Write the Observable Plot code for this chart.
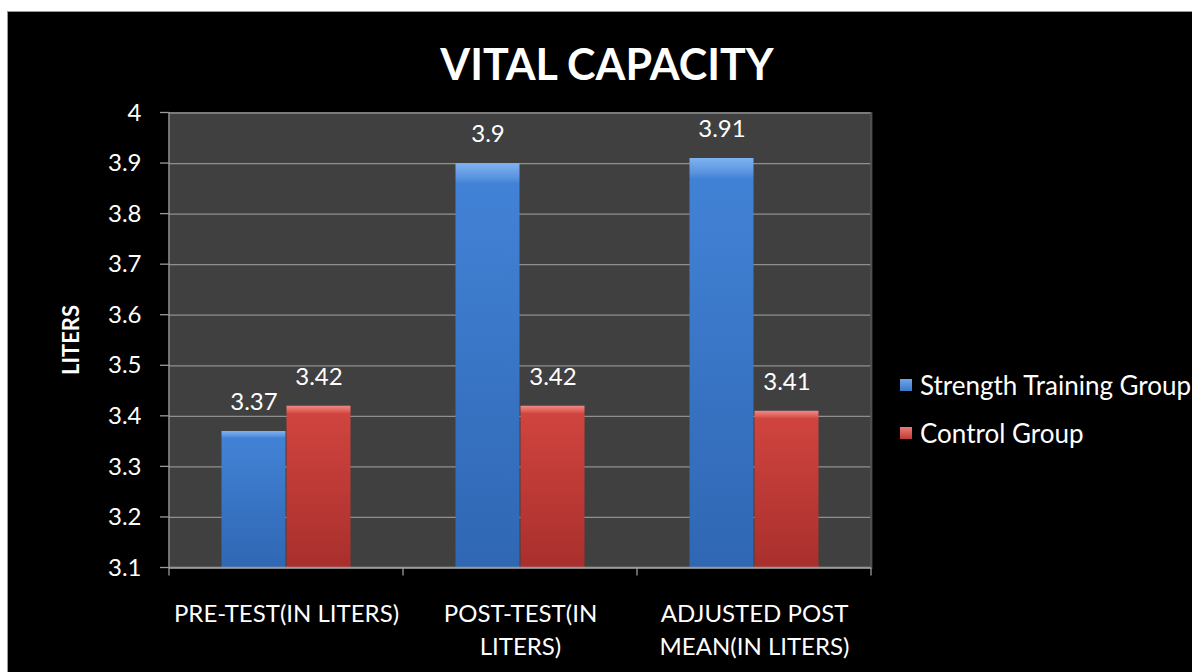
<!DOCTYPE html>
<html>
<head>
<meta charset="utf-8">
<script src="https://cdn.jsdelivr.net/npm/d3@7"></script>
<script src="https://cdn.jsdelivr.net/npm/@observablehq/plot@0.6"></script>
<style>
  html, body { margin: 0; padding: 0; background: #fff; }
  #wrap { position: relative; width: 1192px; height: 672px; overflow: hidden; background: #fff; font-family: Lato, "Open Sans", sans-serif; }
  #panel { position: absolute; left: 7px; top: 11px; width: 1185px; height: 661px; background: #000; box-shadow: inset 1px 1px 0 #9a9a9a; }
  #chart { position: absolute; left: 0; top: 0; }
  #title { position: absolute; left: 0; width: 1214px; top: 38px; text-align: center; color: #fff; font-weight: 700; font-size: 43px; line-height: 52px; }
  #ylabel { position: absolute; left: 70px; top: 340px; color: #fff; font-weight: 700; font-size: 22px; transform: translate(-50%, -50%) rotate(-90deg); white-space: nowrap; }
  #legend { position: absolute; left: 900px; top: 361px; color: #fff; font-size: 26px; }
  .item { display: flex; align-items: center; height: 48px; white-space: nowrap; }
  .sw { width: 12px; height: 12px; margin-right: 8px; }
</style>
</head>
<body>
<div id="wrap">
  <div id="panel"><div id="chart"></div></div>
  <div id="title"></div>
  <div id="ylabel"></div>
  <div id="legend"></div>
</div>
<script>
const title = "VITAL CAPACITY";
const yTitle = "LITERS";
const categories = ["PRE-TEST(IN LITERS)", "POST-TEST(IN\nLITERS)", "ADJUSTED POST\nMEAN(IN LITERS)"];
const groups = ["Strength Training Group", "Control Group"];
const strengthValues = [3.37, 3.9, 3.91];
const controlValues = [3.42, 3.42, 3.41];
const yTicks = [3.1, 3.2, 3.3, 3.4, 3.5, 3.6, 3.7, 3.8, 3.9, 4.0];
const yMin = 3.1, yMax = 4.0;
const colors = ["url(#gBlue)", "url(#gRed)"];
const swatch = ["linear-gradient(#6fa6ea,#3b78c9)", "linear-gradient(#ec7b77,#c13a37)"];

const data = [];
categories.forEach((c, i) => {
  data.push({cat: c, group: groups[0], value: strengthValues[i]});
  data.push({cat: c, group: groups[1], value: controlValues[i]});
});

document.getElementById("title").textContent = title;
document.getElementById("ylabel").textContent = yTitle;
const leg = document.getElementById("legend");
groups.forEach((g, i) => {
  const d = document.createElement("div"); d.className = "item";
  const s = document.createElement("span"); s.className = "sw"; s.style.background = swatch[i];
  const t = document.createElement("span"); t.textContent = g;
  d.append(s, t); leg.append(d);
});

const W = 1185, H = 661;
const mL = 161, mR = 321, mT = 101.5, mB = 104.5;

function defs() {
  const ns = "http://www.w3.org/2000/svg";
  const g = document.createElementNS(ns, "defs");
  g.innerHTML = `
    <linearGradient id="gBlue" x1="0" y1="0" x2="0" y2="1">
      <stop offset="0" stop-color="#7fb2f0"/>
      <stop offset="0.035" stop-color="#5b95e0"/>
      <stop offset="0.05" stop-color="#4282d6"/>
      <stop offset="1" stop-color="#2f67b3"/>
    </linearGradient>
    <linearGradient id="gRed" x1="0" y1="0" x2="0" y2="1">
      <stop offset="0" stop-color="#f08a86"/>
      <stop offset="0.035" stop-color="#dd5b56"/>
      <stop offset="0.05" stop-color="#d0443f"/>
      <stop offset="1" stop-color="#a92f2c"/>
    </linearGradient>`;
  return g;
}

const chart = Plot.plot({
  width: W, height: H,
  marginLeft: mL, marginRight: mR, marginTop: mT, marginBottom: mB,
  style: {background: "transparent", color: "#fff", fontFamily: "Lato, 'Open Sans', sans-serif", overflow: "visible"},
  fx: {domain: categories, padding: 0, label: null},
  x: {domain: groups, paddingInner: 0, paddingOuter: 0.78, axis: null},
  y: {domain: [yMin, yMax], label: null},
  color: {domain: groups, range: colors},
  marks: [
    defs,
    Plot.frame({fill: "#404040", stroke: "#404040", strokeWidth: 2}),
    Plot.gridY(yTicks, {stroke: "#8f8f8f", strokeOpacity: 1, strokeWidth: 1.3}),
    Plot.barY(data, {fx: "cat", x: "group", y1: () => yMin, y2: "value", fill: "group", insetLeft: 0.5, insetRight: 0.5}),
    Plot.text(data, {fx: "cat", x: "group", y: "value", text: d => String(d.value), dy: -29, fill: "#fff", fontSize: 24}),
    Plot.axisY(yTicks, {tickSize: 0, tickPadding: 28, fontSize: 24, fill: "#fff", tickFormat: d => String(+d.toFixed(2)), label: null}),
    Plot.axisFx({anchor: "bottom", tickSize: 0, tickPadding: 30, fontSize: 24, fill: "#fff", lineHeight: 1.38, label: null})
  ]
});
document.getElementById("chart").append(chart);

// axis lines and ticks, positioned through the plot's scales
const fx = chart.scale("fx"), ys = chart.scale("y");
const bw = fx.bandwidth;
const xs = categories.map(c => fx.apply(c));
const left = xs[0], right = xs[xs.length - 1] + bw;
const y0 = ys.apply(yMin), y1 = ys.apply(yMax);
const svg = d3.select(chart);
const gl = svg.append("g").attr("stroke", "#9a9a9a").attr("stroke-width", 1.3);
gl.append("line").attr("x1", left).attr("x2", left).attr("y1", y1).attr("y2", y0 + 8);
gl.append("line").attr("x1", left).attr("x2", right).attr("y1", y0).attr("y2", y0);
gl.append("line").attr("x1", right).attr("x2", right).attr("y1", y1).attr("y2", y0).attr("stroke", "#555").attr("stroke-width", 1.5);
[...xs.slice(1), right].forEach(x => gl.append("line").attr("x1", x).attr("x2", x).attr("y1", y0).attr("y2", y0 + 8));
yTicks.forEach(t => { const y = ys.apply(t); gl.append("line").attr("x1", left - 9).attr("x2", left).attr("y1", y).attr("y2", y); });
</script>
</body>
</html>
